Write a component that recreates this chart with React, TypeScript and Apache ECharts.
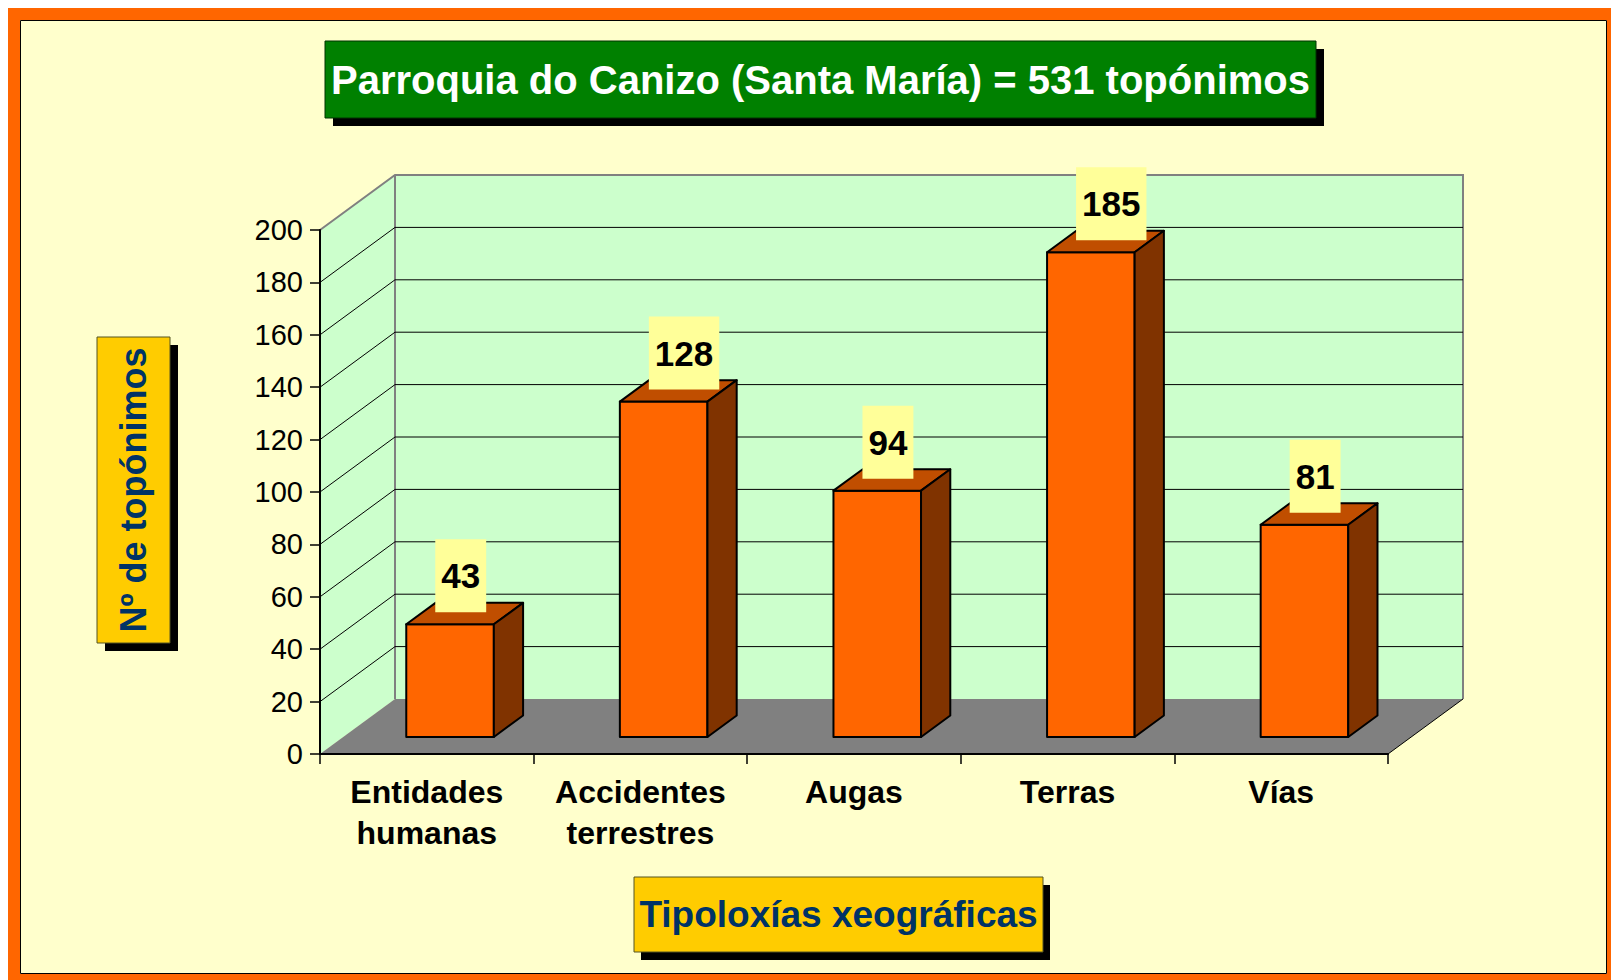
import React, { useEffect, useRef } from "react";
import * as echarts from "echarts";

const categories = ["Entidades\nhumanas", "Accidentes\nterrestres", "Augas", "Terras", "Vías"];
const values = [43, 128, 94, 185, 81];
const yTicks = [0, 20, 40, 60, 80, 100, 120, 140, 160, 180, 200];
const titleText = "Parroquia do Canizo (Santa María) = 531 topónimos";
const xAxisTitle = "Tipoloxías xeográficas";
const yAxisTitle = "Nº de topónimos";

const W = 1611;
const H = 978;
const DX = 75;
const DY = -55;
const FONT = '"Liberation Sans", Arial, Helvetica, sans-serif';

export default function App() {
  const ref = useRef<HTMLDivElement>(null);
  useEffect(() => {
    document.documentElement.style.overflow = "hidden";
    const chart = echarts.init(ref.current as HTMLDivElement, null, { renderer: "svg" });
    const option: any = {
      animation: false,
      backgroundColor: "#FFFFCC",
      grid: { left: 312, top: 222, width: 1068, height: 524, containLabel: false },
      xAxis: {
        type: "category",
        data: categories,
        boundaryGap: true,
        z: 5,
        axisLine: { show: true, lineStyle: { color: "#000", width: 2 } },
        axisTick: { show: true, length: 10, lineStyle: { color: "#000", width: 1.5 } },
        axisLabel: {
          interval: 0,
          fontFamily: FONT,
          fontWeight: "bold",
          fontSize: 32,
          lineHeight: 41,
          color: "#000",
          margin: 17,
        },
        splitLine: { show: false },
      },
      yAxis: {
        type: "value",
        min: 0,
        max: 200,
        interval: 20,
        z: 5,
        axisLine: { show: true, lineStyle: { color: "#000", width: 2 } },
        axisTick: { show: true, length: 10, lineStyle: { color: "#000", width: 1.5 } },
        axisLabel: { fontFamily: FONT, fontSize: 29, color: "#000", margin: 17 },
        splitLine: { show: false },
      },
      series: [
        {
          type: "custom",
          z: 1,
          silent: true,
          data: [[0, 0]],
          renderItem: (params: any, api: any) => {
            const cs = params.coordSys;
            const x = cs.x, y = cs.y, w = cs.width, h = cs.height;
            return {
              type: "group",
              children: [
                { type: "rect", shape: { x: x + DX, y: y + DY, width: w, height: h }, style: { fill: "#CCFFCC" } },
                {
                  type: "polygon",
                  shape: { points: [[x, y + h], [x + DX, y + h + DY], [x + DX, y + DY], [x, y]] },
                  style: { fill: "#CCFFCC" },
                },
                {
                  type: "polygon",
                  shape: { points: [[x, y + h], [x + w, y + h], [x + w + DX, y + h + DY], [x + DX, y + h + DY]] },
                  style: { fill: "#808080" },
                },
                {
                  type: "polyline",
                  shape: { points: [[x, y], [x + DX, y + DY], [x + w + DX, y + DY], [x + w + DX, y + h + DY]] },
                  style: { stroke: "#808080", lineWidth: 2, fill: "none" },
                },
                {
                  type: "line",
                  shape: { x1: x + DX, y1: y + DY, x2: x + DX, y2: y + h + DY },
                  style: { stroke: "#808080", lineWidth: 2 },
                },
                {
                  type: "line",
                  shape: { x1: x + w, y1: y + h, x2: x + w + DX, y2: y + h + DY },
                  style: { stroke: "#000", lineWidth: 1 },
                },
              ],
            };
          },
        },
        {
          type: "custom",
          z: 2,
          silent: true,
          data: yTicks.filter((v) => v > 0 && v < 200).map((v) => [0, v]),
          renderItem: (params: any, api: any) => {
            const cs = params.coordSys;
            const p = api.coord([0, api.value(1)]);
            const y = p[1];
            return {
              type: "group",
              children: [
                {
                  type: "line",
                  shape: { x1: cs.x + DX, y1: y + DY, x2: cs.x + cs.width + DX, y2: y + DY },
                  style: { stroke: "#000", lineWidth: 1 },
                },
                {
                  type: "line",
                  shape: { x1: cs.x, y1: y, x2: cs.x + DX, y2: y + DY },
                  style: { stroke: "#000", lineWidth: 1 },
                },
              ],
            };
          },
        },
        {
          type: "custom",
          z: 3,
          encode: { x: 0, y: 1 },
          data: values.map((v, i) => [i, v]),
          renderItem: (params: any, api: any) => {
            const v = api.value(1);
            const base = api.coord([api.value(0), 0]);
            const top = api.coord([api.value(0), v]);
            const band = api.size([1, 0])[0];
            const bw = band * 0.41;
            const f = 0.31;
            const d = 0.39;
            const dx = DX * d, dy = DY * d;
            const x0 = base[0] - bw / 2 + DX * f;
            const x1 = x0 + bw;
            const yb = base[1] + DY * f;
            const yt = top[1] + DY * f;
            const edge = { stroke: "#000", lineWidth: 2, lineJoin: "round" };
            return {
              type: "group",
              children: [
                {
                  type: "polygon",
                  shape: { points: [[x0, yb], [x1, yb], [x1, yt], [x0, yt]] },
                  style: { fill: "#FF6600", ...edge },
                },
                {
                  type: "polygon",
                  shape: { points: [[x0, yt], [x1, yt], [x1 + dx, yt + dy], [x0 + dx, yt + dy]] },
                  style: { fill: "#C04E00", ...edge },
                },
                {
                  type: "polygon",
                  shape: { points: [[x1, yb], [x1 + dx, yb + dy], [x1 + dx, yt + dy], [x1, yt]] },
                  style: { fill: "#803300", ...edge },
                },
                {
                  type: "text",
                  x: x0 + 29,
                  y: yt - 12,
                  style: {
                    text: String(v),
                    fill: "#000",
                    font: `bold 35px ${FONT}`,
                    align: "left",
                    verticalAlign: "bottom",
                    backgroundColor: "#FFFF99",
                    padding: [19, 6, 19, 6],
                    lineHeight: 35,
                  },
                },
              ],
            };
          },
        },
      ],
      graphic: [
        { type: "rect", silent: true, shape: { x: 6, y: 6, width: W - 12, height: H - 12 }, style: { fill: "none", stroke: "#FF6600", lineWidth: 12 } },
        { type: "rect", silent: true, shape: { x: 12.5, y: 12.5, width: W - 25, height: H - 25 }, style: { fill: "none", stroke: "#000", lineWidth: 1 } },
        { type: "rect", shape: { x: 325, y: 41, width: 991, height: 77 }, style: { fill: "#000" } },
        { type: "rect", shape: { x: 317, y: 33, width: 991, height: 77 }, style: { fill: "#008000", stroke: "#003300", lineWidth: 1 } },
        {
          type: "text",
          x: 812.5,
          y: 71.5,
          style: { text: titleText, fill: "#FFFFFF", font: `bold 40px ${FONT}`, align: "center", verticalAlign: "middle" },
        },
        { type: "rect", shape: { x: 633, y: 877, width: 409, height: 75 }, style: { fill: "#000" } },
        { type: "rect", shape: { x: 626, y: 869, width: 409, height: 75 }, style: { fill: "#FFCC00", stroke: "#555522", lineWidth: 1 } },
        {
          type: "text",
          x: 830.5,
          y: 906.5,
          style: { text: xAxisTitle, fill: "#003366", font: `bold 37px ${FONT}`, align: "center", verticalAlign: "middle" },
        },
        { type: "rect", shape: { x: 97, y: 337, width: 73, height: 306 }, style: { fill: "#000" } },
        { type: "rect", shape: { x: 89, y: 329, width: 73, height: 306 }, style: { fill: "#FFCC00", stroke: "#555522", lineWidth: 1 } },
        {
          type: "text",
          x: 125.5,
          y: 482,
          rotation: Math.PI / 2,
          style: { text: yAxisTitle, fill: "#003366", font: `bold 36px ${FONT}`, align: "center", verticalAlign: "middle" },
        },
      ],
    };
    chart.setOption(option);
    return () => {
      chart.dispose();
    };
  }, []);
  return <div ref={ref} style={{ width: W, height: H }} />;
}
